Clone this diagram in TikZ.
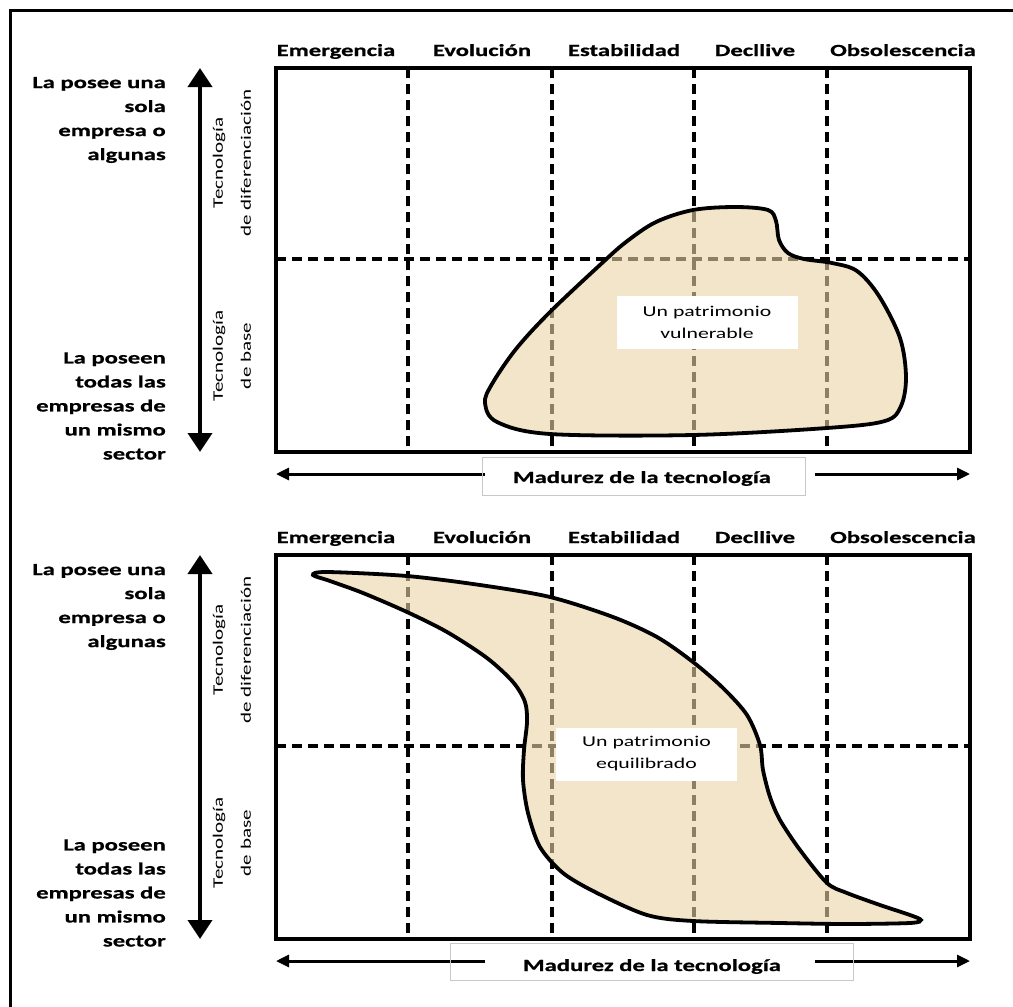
\documentclass[tikz,border=0pt]{standalone}
\usepackage{fontspec}
\setmainfont{Carlito}[FakeStretch=1.45, BoldFeatures={FakeBold=0.8}]
\usetikzlibrary{arrows.meta}

\definecolor{blobfill}{RGB}{234,212,166}
\definecolor{boxgray}{RGB}{200,200,200}

\tikzset{
  frameline/.style={line width=3pt},
  chartborder/.style={line width=4pt},
  gridline/.style={line width=3.2pt, dash pattern=on 10pt off 6pt},
  blob/.style={fill=blobfill, fill opacity=0.6, draw=black, line width=3.8pt},
  header/.style={font=\fontsize{17}{20}\selectfont\bfseries, anchor=base, inner sep=0pt},
  sidetext/.style={font=\fontsize{17}{24}\selectfont\bfseries, align=right, anchor=east, inner sep=0pt},
  rotlabel/.style={font=\fontsize{14.5}{28}\selectfont, align=center, rotate=90, inner sep=0pt},
  vaxis/.style={line width=4pt, {Triangle[width=24pt,length=19pt]}-{Triangle[width=24pt,length=19pt]}},
  haxis/.style={line width=3pt, {Triangle[width=12pt,length=13pt]}-{Triangle[width=12pt,length=13pt]}},
  axislabel/.style={font=\fontsize{17}{20}\selectfont\bfseries, anchor=base, inner sep=0pt},
  graybox/.style={draw=boxgray, line width=1pt},
  notebox/.style={fill=white, align=center, font=\fontsize{15}{22}\selectfont,
    minimum width=181pt, minimum height=53pt, inner sep=0pt},
}

% One maturity chart: grid, border, stage headers, vertical axis and side texts
\newcommand\stagechart[1]{%
  \foreach \x in {408,552,694,827} \draw[gridline] (\x,68) -- (\x,452);
  \draw[gridline] (276,259) -- (970,259);
  \draw[chartborder] (276,68) rectangle (970,452);
  \node[header] (#1e1) at (336,56) {Emergencia};
  \node[header] (#1e2) at (482,56) {Evolución};
  \node[header] (#1e3) at (624,56) {Estabilidad};
  \node[header] (#1e4) at (755,56) {Decllive};
  \node[header] (#1e5) at (903,56) {Obsolescencia};
  \coordinate (#1vtop) at (200,68);
  \coordinate (#1vbot) at (200,452);
  \draw[vaxis] (#1vtop) -- (#1vbot);
  \node[rotlabel] (#1dif) at (232,163) {Tecnología\\de diferenciación};
  \node[rotlabel] (#1base) at (232,356) {Tecnología\\de base};
  \node[sidetext] (#1few) at (166,120) {La posee una\\sola\\empresa o\\algunas};
  \node[sidetext] (#1all) at (166,406) {La poseen\\todas las\\empresas de\\un mismo\\sector};
  \coordinate (#1hl) at (276,474);
  \coordinate (#1hr) at (970,474);
  \draw[haxis] (#1hl) -- (#1hr);
  \fill[white] (485,468) rectangle (815,480);
}

\begin{document}
\begin{tikzpicture}[x=1pt,y=-1pt]
\useasboundingbox (0,0) rectangle (1013,1007);
\fill[white] (0,0) rectangle (1013,1007);

% outer frame
\draw[frameline] (10,1012) -- (10,10.5) -- (1018,10.5);

% upper chart
\begin{scope}[name prefix=up-]
  \stagechart{}
  \draw[graybox] (482,457) rectangle (805,495);
  \node[axislabel] (axis) at (642,483) {Madurez de la tecnología};
  \draw[blob] plot[smooth cycle, tension=0.55] coordinates {
    (485,403) (497,422) (550,434) (693,435) (827,428) (885,421) (901,406)
    (906,377) (900,338) (879,296) (857,271) (832,263) (804,259) (788,253)
    (779,240) (776,221) (768,210) (735,207) (693,210) (656,222) (626,242)
    (601,264) (550,312) (516,349) (492,384)};
  \node[notebox] (note) at (707,322.5) {Un patrimonio\\vulnerable};
\end{scope}

% lower chart
\begin{scope}[name prefix=low-, yshift=-487pt]
  \stagechart{}
\end{scope}
\begin{scope}[name prefix=low-]
  \draw[graybox] (450,943) rectangle (853,980);
  \node[axislabel] (axis) at (652,971) {Madurez de la tecnología};
  \draw[blob] plot[smooth cycle, tension=0.5] coordinates {
    (313,575) (327,572) (407,576) (480,585) (550,597) (613,617) (657,637)
    (693,662) (723,688) (747,715) (760,745) (763,770) (770,797) (780,820)
    (800,850) (827,883) (847,893) (880,905) (910,915) (921,920) (910,923)
    (847,924) (780,923) (693,921) (647,915) (597,893) (563,873) (540,847)
    (528,813) (523,780) (524,750) (527,722) (525,702) (513,682) (487,658)
    (447,632) (407,612) (363,593) (330,581)};
  \node[notebox] (note) at (646.5,754) {Un patrimonio\\equilibrado};
\end{scope}
\end{tikzpicture}
\end{document}
